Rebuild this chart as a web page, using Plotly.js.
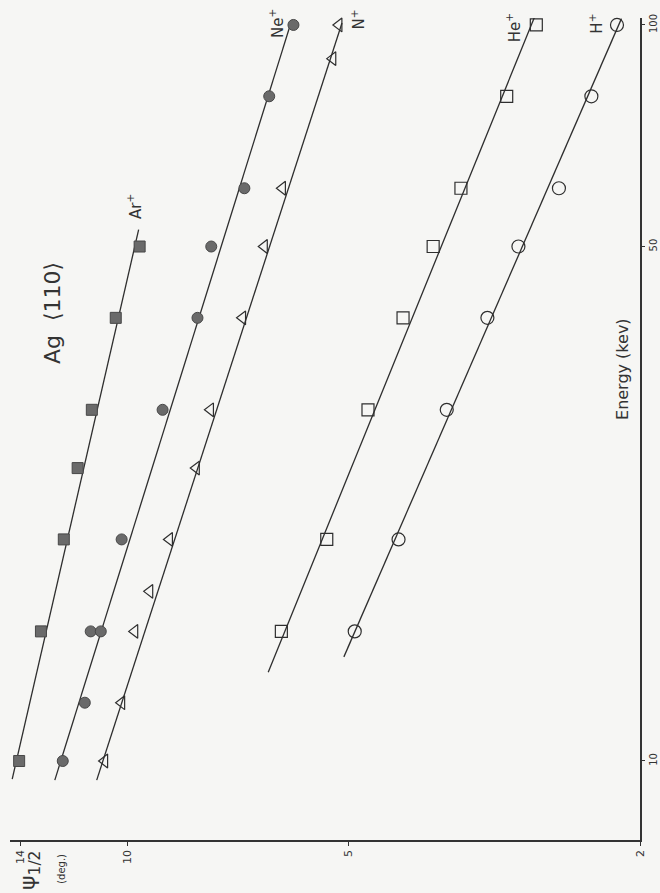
<!DOCTYPE html>
<html>
<head>
<meta charset="utf-8">
<script src="https://cdn.plot.ly/plotly-3.0.1.min.js"></script>
<style>html,body{margin:0;padding:0;background:#f6f6f4;}#chart{width:660px;height:893px;}</style>
</head>
<body>
<div id="chart"></div>
<script>
// Energy (keV) and critical angle psi_1/2 (deg) for Ag <110>
const arE = [10, 15, 20, 25, 30, 40, 50];
const arPsi = [14.06, 13.13, 12.22, 11.70, 11.19, 10.38, 9.63];
const neE = [10, 12, 15, 15, 20, 30, 40, 50, 60, 80, 100];
const nePsi = [12.26, 11.44, 11.23, 10.88, 10.19, 8.96, 8.03, 7.69, 6.93, 6.41, 5.94];
const nE = [10, 12, 15, 17, 20, 25, 30, 40, 50, 60, 90, 100];
const nPsi = [10.75, 10.19, 9.78, 9.33, 8.77, 8.06, 7.71, 6.97, 6.51, 6.15, 5.25, 5.15];
const heE = [15, 20, 30, 40, 50, 60, 80, 100];
const hePsi = [6.17, 5.35, 4.70, 4.21, 3.83, 3.51, 3.04, 2.77];
const hE = [15, 20, 30, 40, 50, 60, 80, 100];
const hPsi = [4.90, 4.27, 3.67, 3.23, 2.93, 2.58, 2.33, 2.15];

// fitted straight lines (end points)
const arFitE = [9.45, 52.7], arFitPsi = [14.37, 9.66];
const neFitE = [9.42, 101.6], neFitPsi = [12.57, 5.97];
const nFitE = [9.42, 100.6], nFitPsi = [11.02, 5.10];
const heFitE = [13.2, 103], heFitPsi = [6.43, 2.78];
const hFitE = [13.85, 102], hFitPsi = [5.07, 2.12];

const psiTicks = [14, 10, 5, 2];
const energyTicks = [10, 50, 100];

const lineStyle = {color: '#2e2e2e', width: 1.3};
function fit(x, y) {
  return {x: x, y: y, mode: 'lines', line: lineStyle, hoverinfo: 'skip', showlegend: false, cliponaxis: false};
}
function filledPts(x, y, symbol, size) {
  return {x: x, y: y, mode: 'markers', showlegend: false, cliponaxis: false,
    marker: {symbol: symbol, size: size, color: '#6a6a6a', line: {color: '#474747', width: 1}}};
}
function openPts(x, y, symbol, size) {
  return {x: x, y: y, mode: 'markers', showlegend: false, cliponaxis: false,
    marker: {symbol: symbol, size: size, color: '#2e2e2e', line: {color: '#2e2e2e', width: 1.2}}};
}

const data = [
  fit(arFitPsi, arFitE), fit(neFitPsi, neFitE), fit(nFitPsi, nFitE),
  fit(heFitPsi, heFitE), fit(hFitPsi, hFitE),
  filledPts(arPsi, arE, 'square', 11),
  filledPts(nePsi, neE, 'circle', 11),
  openPts(nPsi, nE, 'triangle-left-open', 12),
  openPts(hePsi, heE, 'square-open', 12),
  openPts(hPsi, hE, 'circle-open', 13)
];

const font = 'DejaVu Sans, sans-serif';
function lab(text, x, y, size) {
  return {text: text, x: x, y: y, xref: 'paper', yref: 'paper', showarrow: false,
    textangle: -90, font: {family: font, size: size, color: '#333'}, xanchor: 'center', yanchor: 'middle'};
}

const layout = {
  width: 660, height: 893,
  margin: {l: 10, r: 20, t: 18, b: 53},
  paper_bgcolor: '#f6f6f4', plot_bgcolor: '#f6f6f4',
  font: {family: font, color: '#333'},
  xaxis: {
    type: 'log', range: [Math.log10(14.47), Math.log10(2.0)],
    tickvals: psiTicks, ticktext: psiTicks.map(String), tickangle: -90,
    ticks: 'outside', ticklen: 4, tickcolor: '#333',
    showline: true, linecolor: '#333', linewidth: 1.6, mirror: false,
    showgrid: false, zeroline: false, tickfont: {size: 11, family: font, color: '#333'}
  },
  yaxis: {
    type: 'log', side: 'right', range: [Math.log10(7.81), Math.log10(102.2)],
    tickvals: energyTicks, ticktext: energyTicks.map(String), tickangle: -90,
    ticks: 'outside', ticklen: 3, tickcolor: '#333', ticklabelstandoff: 0,
    showline: true, linecolor: '#333', linewidth: 1.6, mirror: false,
    showgrid: false, zeroline: false, tickfont: {size: 10, family: font, color: '#333'}
  },
  annotations: [
    lab('Ag  ⟨110⟩', 0.0665, 0.641, 22),
    lab('Ar<sup>+</sup>', 0.198, 0.771, 15),
    lab('Ne<sup>+</sup>', 0.4225, 0.993, 15),
    lab('N<sup>+</sup>', 0.552, 0.998, 15),
    lab('He<sup>+</sup>', 0.799, 0.988, 15),
    lab('H<sup>+</sup>', 0.930, 0.993, 15),
    lab('Energy (kev)', 0.973, 0.573, 16),
    lab('ψ<sub>1/2</sub>', 0.030, -0.0365, 22),
    lab('(deg.)', 0.0807, -0.0353, 10)
  ]
};

Plotly.newPlot('chart', data, layout, {staticPlot: true});
</script>
</body>
</html>
